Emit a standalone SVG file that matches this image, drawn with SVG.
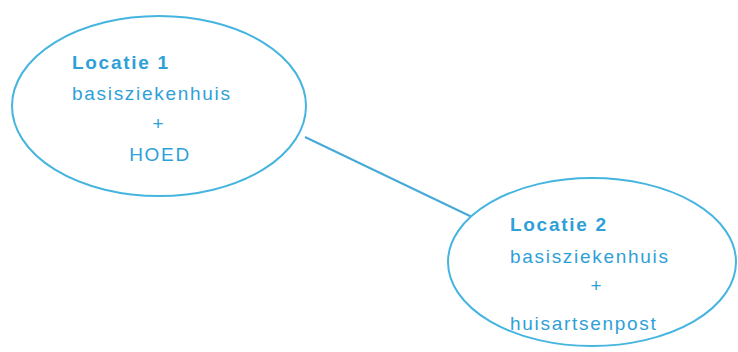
<svg xmlns="http://www.w3.org/2000/svg" width="738" height="352" viewBox="0 0 738 352">
<style>
.node{fill:#ffffff;stroke:#45b5e0;stroke-width:2}
.edge{stroke:#45aad8;stroke-width:2;fill:none}
.t{font-family:"Liberation Sans",Arial,sans-serif;font-size:19px;fill:#2f9fd8;letter-spacing:1.7px}
.b{font-weight:bold}
</style>
<rect width="738" height="352" fill="#ffffff"/>
<g id="connectors">
<line class="edge" x1="305" y1="137" x2="472" y2="217"/>
</g>
<g id="locatie1">
<ellipse class="node" cx="159" cy="106" rx="147" ry="90"/>
<text class="t b" x="72" y="69">Locatie 1</text>
<text class="t" x="72" y="100">basisziekenhuis</text>
<text class="t" x="159" y="130" text-anchor="middle" font-size="13">+</text>
<text class="t" x="160" y="161" text-anchor="middle">HOED</text>
</g>
<g id="locatie2">
<ellipse class="node" cx="592" cy="262" rx="144" ry="84"/>
<text class="t b" x="510" y="231">Locatie 2</text>
<text class="t" x="510" y="263">basisziekenhuis</text>
<text class="t" x="597" y="292" text-anchor="middle" font-size="13">+</text>
<text class="t" x="510" y="330">huisartsenpost</text>
</g>
</svg>
